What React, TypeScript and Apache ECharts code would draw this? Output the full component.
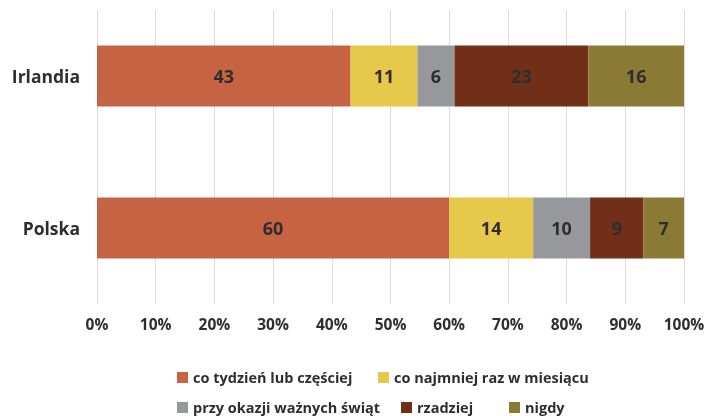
import React, { useEffect, useRef } from "react";
import * as echarts from "echarts";

const categories = ["Irlandia", "Polska"];
const seriesNames = [
  "co tydzień lub częściej",
  "co najmniej raz w miesiącu",
  "przy okazji ważnych świąt",
  "rzadziej",
  "nigdy",
];
const weekly = [43.2, 60.0];
const monthly = [11.4, 14.3];
const holidays = [6.3, 9.7];
const rarely = [22.8, 9.1];
const never = [16.3, 6.9];
const xTicks = [0, 10, 20, 30, 40, 50, 60, 70, 80, 90, 100];

const colors = ["#C66343", "#E6C84A", "#97989B", "#722F18", "#8A7A33"];
const legendLeft = [177, 378, 177, 401, 509];
const legendTop = [370, 370, 400, 400, 400];
const FONT = "Open Sans";
const TEXT = "#2E2E2E";

export default function App() {
  const ref = useRef<HTMLDivElement>(null);
  useEffect(() => {
    if (!ref.current) return;
    const chart = echarts.init(ref.current, null, { renderer: "svg" });
    const values = [weekly, monthly, holidays, rarely, never];
    const legendText = { color: TEXT, fontWeight: "bold", fontSize: 14.5, fontFamily: FONT };
    chart.setOption({
      animation: false,
      textStyle: { fontFamily: FONT },
      grid: { left: 97, right: 35, top: -5, height: 309, containLabel: false },
      xAxis: {
        type: "value",
        min: xTicks[0],
        max: xTicks[xTicks.length - 1],
        interval: 10,
        axisLine: { show: false },
        axisTick: { show: false },
        splitLine: { show: true, lineStyle: { color: "#DCDCDC", width: 1 } },
        axisLabel: {
          formatter: (v: number) => v + "%",
          color: TEXT,
          fontWeight: "bold",
          fontSize: 15.5,
          fontFamily: FONT,
          margin: 12,
        },
      },
      yAxis: {
        type: "category",
        data: categories,
        inverse: true,
        axisLine: { show: false },
        axisTick: { show: false },
        axisLabel: {
          color: TEXT,
          fontWeight: "bold",
          fontSize: 17.5,
          fontFamily: FONT,
          margin: 17,
        },
      },
      legend: seriesNames.map((name, i) => ({
        data: [name],
        left: legendLeft[i],
        top: legendTop[i],
        itemWidth: 11,
        itemHeight: 11,
        itemGap: 0,
        padding: 0,
        icon: "rect",
        textStyle: legendText,
      })),
      graphic: [
        {
          type: "rect",
          left: 0,
          top: 0,
          z: 100,
          shape: { width: 719, height: 10 },
          style: { fill: "#ffffff" },
        },
      ],
      series: seriesNames.map((name, i) => ({
        name,
        type: "bar",
        stack: "total",
        barWidth: 61,
        data: values[i],
        itemStyle: { color: colors[i] },
        label: {
          show: true,
          position: "inside",
          formatter: (p: any) => String(Math.round(p.value)),
          color: TEXT,
          fontWeight: "bold",
          fontSize: 18,
          fontFamily: FONT,
        },
      })),
    });
    return () => chart.dispose();
  }, []);
  return (
    <div
      ref={ref}
      style={{ position: "fixed", left: 0, top: 0, width: 719, height: 416 }}
    />
  );
}
